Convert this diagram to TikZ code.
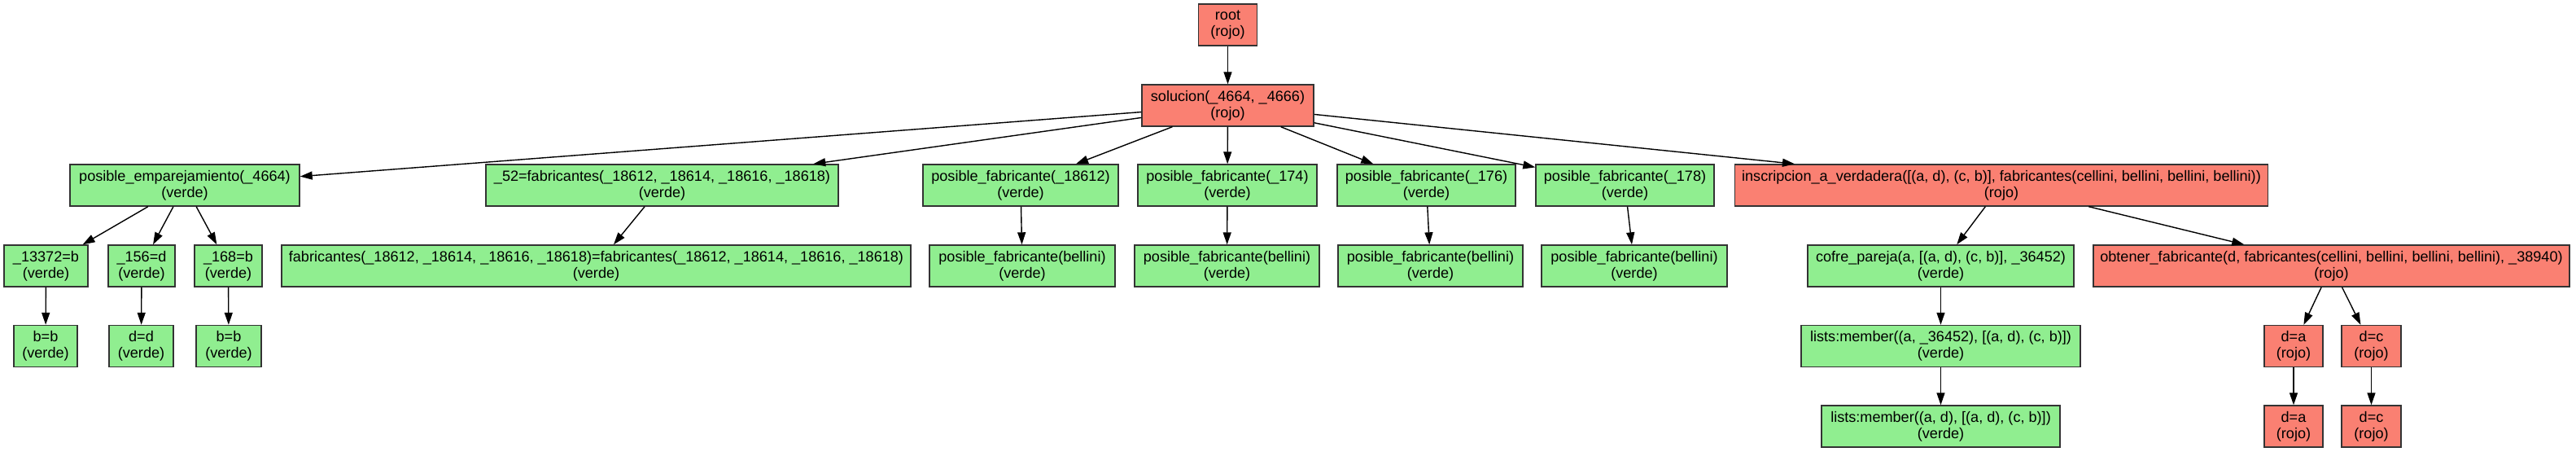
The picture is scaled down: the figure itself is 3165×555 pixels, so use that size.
\documentclass[tikz,border=0pt]{standalone}
\usepackage{fontspec}
\setmainfont{Liberation Sans}
\usetikzlibrary{arrows.meta}
\definecolor{salmonc}{HTML}{FA8072}
\definecolor{greenc}{HTML}{90EE90}
\definecolor{edgec}{HTML}{333333}
\tikzset{
  gvbox/.style={draw=edgec, line width=0.7pt, rectangle, minimum height=25.5pt, inner sep=0pt, align=center,
     font=\fontsize{9.05}{10}\selectfont},
  vbox/.style={gvbox, fill=greenc},
  rbox/.style={gvbox, fill=salmonc},
  conn/.style={draw=black, line width=0.7pt, -{Triangle[length=7.5pt,width=5pt]}}
}
\begin{document}
\begin{tikzpicture}[x=0.5pt,y=-0.5pt]
\useasboundingbox (0,0) rectangle (3165,555);
% level 0/1
\node[rbox, minimum width=36pt] (root) at (1508.5,30.5) {root\\(rojo)};
\node[rbox, minimum width=105.5pt] (sol) at (1508.5,129.5) {solucion(\_4664, \_4666)\\(rojo)};
% level 2
\node[vbox, minimum width=141pt] (pe) at (227,227.5) {posible\_emparejamiento(\_4664)\\(verde)};
\node[vbox, minimum width=216.5pt] (s52) at (813.5,227.5) {\_52=fabricantes(\_18612, \_18614, \_18616, \_18618)\\(verde)};
\node[vbox, minimum width=120pt] (pfa) at (1254,227.5) {posible\_fabricante(\_18612)\\(verde)};
\node[vbox, minimum width=110pt] (pfb) at (1508,227.5) {posible\_fabricante(\_174)\\(verde)};
\node[vbox, minimum width=109.5pt] (pfc) at (1752.5,227.5) {posible\_fabricante(\_176)\\(verde)};
\node[vbox, minimum width=109.5pt] (pfd) at (1996.5,227.5) {posible\_fabricante(\_178)\\(verde)};
\node[rbox, minimum width=327.5pt] (insc) at (2459,227.5) {inscripcion\_a\_verdadera([(a, d), (c, b)], fabricantes(cellini, bellini, bellini, bellini))\\(rojo)};
% level 3
\node[vbox, minimum width=51.5pt] (ea) at (56.5,326.5) {\_13372=b\\(verde)};
\node[vbox, minimum width=41pt] (eb) at (174,326.5) {\_156=d\\(verde)};
\node[vbox, minimum width=41.5pt] (ec) at (280.5,326.5) {\_168=b\\(verde)};
\node[vbox, minimum width=386.5pt] (fab) at (732.5,326.5) {fabricantes(\_18612, \_18614, \_18616, \_18618)=fabricantes(\_18612, \_18614, \_18616, \_18618)\\(verde)};
\node[vbox, minimum width=114pt] (qa) at (1256,326.5) {posible\_fabricante(bellini)\\(verde)};
\node[vbox, minimum width=113.5pt] (qb) at (1507.5,326.5) {posible\_fabricante(bellini)\\(verde)};
\node[vbox, minimum width=113.5pt] (qc) at (1757.5,326.5) {posible\_fabricante(bellini)\\(verde)};
\node[vbox, minimum width=114pt] (qd) at (2008,326.5) {posible\_fabricante(bellini)\\(verde)};
\node[vbox, minimum width=163.5pt] (cofre) at (2384.5,326.5) {cofre\_pareja(a, [(a, d), (c, b)], \_36452)\\(verde)};
\node[rbox, minimum width=292.5pt] (obt) at (2864.5,326.5) {obtener\_fabricante(d, fabricantes(cellini, bellini, bellini, bellini), \_38940)\\(rojo)};
% level 4
\node[vbox, minimum width=39pt] (ba) at (56,425) {b=b\\(verde)};
\node[vbox, minimum width=39.5pt] (dd) at (173.5,425) {d=d\\(verde)};
\node[vbox, minimum width=40pt] (bb) at (281,425) {b=b\\(verde)};
\node[vbox, minimum width=171.5pt] (lma) at (2384.5,425) {lists:member((a, \_36452), [(a, d), (c, b)])\\(verde)};
\node[rbox, minimum width=36pt] (daa) at (2818,425) {d=a\\(rojo)};
\node[rbox, minimum width=36.5pt] (dca) at (2913.5,425) {d=c\\(rojo)};
% level 5
\node[vbox, minimum width=146.5pt] (lmb) at (2384.5,523.5) {lists:member((a, d), [(a, d), (c, b)])\\(verde)};
\node[rbox, minimum width=36pt] (dab) at (2818,523.5) {d=a\\(rojo)};
\node[rbox, minimum width=36.5pt] (dcb) at (2913.5,523.5) {d=c\\(rojo)};
% edges
\draw[conn] (root) -- (sol);
\foreach \t in {pe,s52,pfa,pfb,pfc,pfd,insc} \draw[conn] (sol) -- (\t);
\foreach \t in {ea,eb,ec} \draw[conn] (pe) -- (\t);
\draw[conn] (s52) -- (fab);
\draw[conn] (pfa) -- (qa);
\draw[conn] (pfb) -- (qb);
\draw[conn] (pfc) -- (qc);
\draw[conn] (pfd) -- (qd);
\draw[conn] (insc) -- (cofre);
\draw[conn] (insc) -- (obt);
\draw[conn] (ea) -- (ba);
\draw[conn] (eb) -- (dd);
\draw[conn] (ec) -- (bb);
\draw[conn] (cofre) -- (lma);
\draw[conn] (lma) -- (lmb);
\draw[conn] (obt) -- (daa);
\draw[conn] (obt) -- (dca);
\draw[conn] (daa) -- (dab);
\draw[conn] (dca) -- (dcb);
\end{tikzpicture}
\end{document}
